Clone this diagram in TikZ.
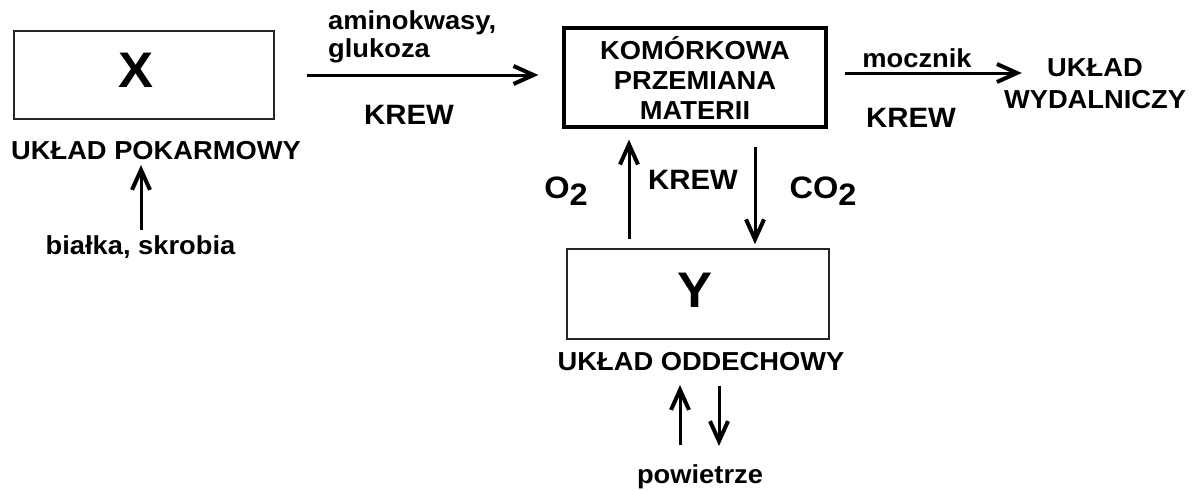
\documentclass[tikz,border=0pt]{standalone}
\usepackage{fontspec}
\setmainfont{Liberation Sans}[FakeStretch=1.05]
\usetikzlibrary{arrows.meta, positioning}
\tikzset{%
	organ/.style={
		draw=black!85,
		line width=1.6pt,
		minimum width=260pt,
		minimum height=88pt
	},
	letter/.style={
		font=\fontsize{50}{50}\selectfont\bfseries,
		inner sep=0pt
	},
	label text/.style={
		font=\fontsize{26}{30}\selectfont\bfseries,
		align=center,
		inner sep=0pt
	},
	flow/.style={
		line width=3pt,
		-{Straight Barb[length=20pt,width=18pt,line width=4pt]}
	},
}
\newcommand{\sub}[1]{\raisebox{-7pt}{#1}}

\begin{document}
\begin{tikzpicture}[x=1pt, y=-1pt]
			\useasboundingbox (0,0) rectangle (1196,490);
			
			% Boxes
			\node[organ] (X) at (144,75) {};
			\node[letter] (xname) at (136,70) {X};
			\node[draw, line width=3.2pt, minimum width=262pt, minimum height=99pt, label text] (meta) at (695,77.5) {KOMÓRKOWA\\PRZEMIANA\\MATERII};
			\node[organ, minimum width=262pt, minimum height=90pt] (Y) at (698,294) {};
			\node[letter] (yname) at (694.5,290) {Y};
			
			% Names under the boxes
			\node[label text] (pokarm) at (156,151) {UKŁAD POKARMOWY};
			\node[label text] (oddech) at (701,362) {UKŁAD ODDECHOWY};
			\node[label text, font=\fontsize{26}{32}\selectfont\bfseries] (wydal) at (1095,84) {UKŁAD\\WYDALNICZY};
			\node[label text] (bialka) at (140.5,247) {białka, skrobia};
			\node[label text] (powietrze) at (700,477) {powietrze};
			
			% Labels of the flows
			\node[label text, font=\fontsize{26}{28}\selectfont\bfseries, align=left, anchor=west] (amino) at (328,37) {aminokwasy,\\glukoza};
			\node[label text] (mocznik) at (917,58) {mocznik};
			\node[label text, font=\fontsize{28}{28}\selectfont\bfseries] (krew1) at (409,115) {KREW};
			\node[label text, font=\fontsize{28}{28}\selectfont\bfseries] (krew2) at (911,118) {KREW};
			\node[label text, font=\fontsize{28}{28}\selectfont\bfseries] (krew3) at (693,180) {KREW};
			\node[label text, font=\fontsize{31}{31}\selectfont\bfseries] (tlen) at (566,191) {O\sub{2}};
			\node[label text, font=\fontsize{31}{31}\selectfont\bfseries] (co2) at (823,191) {CO\sub{2}};
			
			% Arrows
			\draw[flow] ([xshift=32pt]X.east) -- ([xshift=-24pt]X.east -| meta.west);
			\draw[flow] ([xshift=17pt,yshift=4.5pt]meta.east) coordinate (m1) -- ([xshift=18pt]wydal.west |- m1);
			\draw[flow] ([xshift=-69pt,yshift=9pt]Y.north) -- ([xshift=-66pt,yshift=-11pt]meta.south);
			\draw[flow] ([xshift=60pt,yshift=-18pt]meta.south) -- ([xshift=57pt,yshift=4pt]Y.north);
			\draw[flow] ([xshift=0.5pt,yshift=17pt]bialka.center) -- ([xshift=-15pt,yshift=-14pt]pokarm.center);
			\draw[flow] ([xshift=-20pt,yshift=32pt]powietrze.center) -- ([xshift=-21pt,yshift=-23pt]oddech.center);
			\draw[flow] ([xshift=18pt,yshift=-24pt]oddech.center) -- ([xshift=19pt,yshift=31pt]powietrze.center);
			
		\end{tikzpicture}
\end{document}
